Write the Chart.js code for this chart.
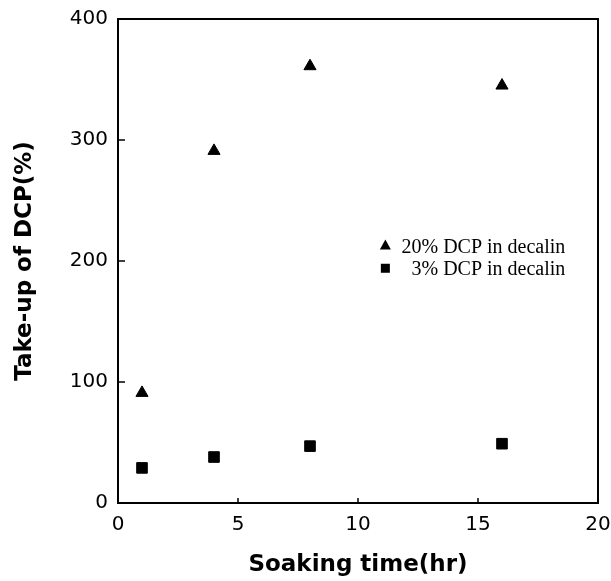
<!DOCTYPE html>
<html>
<head>
<meta charset="utf-8">
<script src="https://cdn.jsdelivr.net/npm/chart.js@4"></script>
<style>
html,body{margin:0;padding:0;background:#fff;}
#wrap{width:611px;height:581px;}
</style>
</head>
<body>
<div id="wrap"><canvas id="c" width="611" height="581"></canvas></div>
<script>
const soakingTime = [1, 4, 8, 16];
const dcp20 = [91, 291, 361, 345];
const dcp3 = [29, 38, 47, 49];
const seriesLabels = ['20% DCP in decalin', '3% DCP in decalin'];
const xTicks = [0, 5, 10, 15, 20];
const yTicks = [0, 100, 200, 300, 400];

const boxPlugin = {
  id: 'boxPlugin',
  afterDraw(chart) {
    const {ctx, chartArea: a, scales: {x, y}} = chart;
    ctx.save();
    ctx.strokeStyle = '#000';
    ctx.lineWidth = 2;
    ctx.strokeRect(a.left, a.top, a.right - a.left, a.bottom - a.top);
    ctx.lineWidth = 1.5;
    ctx.beginPath();
    xTicks.slice(1, -1).forEach(v => {
      const px = x.getPixelForValue(v);
      ctx.moveTo(px, a.bottom);
      ctx.lineTo(px, a.bottom - 5);
    });
    yTicks.slice(1, -1).forEach(v => {
      const py = y.getPixelForValue(v);
      ctx.moveTo(a.left, py);
      ctx.lineTo(a.left + 7, py);
    });
    ctx.stroke();

    // legend
    const lx = a.left + (a.right - a.left) * 0.557;
    const tx = a.left + (a.right - a.left) * 0.932;
    const ly1 = a.top + (a.bottom - a.top) * 0.468;
    const ly2 = a.top + (a.bottom - a.top) * 0.515;
    ctx.fillStyle = '#000';
    ctx.beginPath();
    ctx.moveTo(lx, ly1 - 6);
    ctx.lineTo(lx + 5.5, ly1 + 4);
    ctx.lineTo(lx - 5.5, ly1 + 4);
    ctx.closePath();
    ctx.fill();
    ctx.fillRect(lx - 4.5, ly2 - 4.5, 9, 9);
    ctx.font = '20px "Liberation Serif", "Times New Roman", serif';
    ctx.textAlign = 'right';
    ctx.textBaseline = 'alphabetic';
    ctx.fillText(seriesLabels[0], tx, ly1 + 7);
    ctx.fillText(seriesLabels[1], tx, ly2 + 7);
    ctx.restore();
  }
};

new Chart(document.getElementById('c'), {
  type: 'scatter',
  data: {
    datasets: [
      {
        label: seriesLabels[0],
        data: soakingTime.map((t, i) => ({x: t, y: dcp20[i]})),
        pointStyle: 'triangle',
        pointRadius: 7,
        borderWidth: 1,
        backgroundColor: '#000',
        borderColor: '#000'
      },
      {
        label: seriesLabels[1],
        data: soakingTime.map((t, i) => ({x: t, y: dcp3[i]})),
        pointStyle: 'rect',
        pointRadius: 7.5,
        borderWidth: 1,
        backgroundColor: '#000',
        borderColor: '#000'
      }
    ]
  },
  options: {
    responsive: false,
    animation: false,
    events: [],
    layout: {padding: {top: 19, right: 13, left: 0, bottom: 0}},
    plugins: {legend: {display: false}, tooltip: {enabled: false}},
    scales: {
      x: {
        type: 'linear',
        min: 0, max: 20,
        afterFit(s) { s.height = 78; s.paddingLeft = 0; s.paddingRight = 0; },
        afterBuildTicks(s) { s.ticks = xTicks.map(v => ({value: v})); },
        grid: {display: false, drawTicks: false},
        border: {display: false},
        ticks: {
          padding: 10,
          color: '#000',
          font: {family: '"DejaVu Sans", sans-serif', size: 20}
        },
        title: {
          display: true,
          text: 'Soaking time(hr)',
          color: '#000',
          font: {family: '"DejaVu Sans", sans-serif', size: 23, weight: 'bold'},
          padding: {top: 0, bottom: 2}
        }
      },
      y: {
        type: 'linear',
        min: 0, max: 400,
        afterFit(s) { s.width = 118; s.paddingTop = 0; s.paddingBottom = 0; },
        afterBuildTicks(s) { s.ticks = yTicks.map(v => ({value: v})); },
        grid: {display: false, drawTicks: false},
        border: {display: false},
        ticks: {
          padding: 10,
          color: '#000',
          font: {family: '"DejaVu Sans", sans-serif', size: 20}
        },
        title: {
          display: true,
          text: 'Take-up of DCP(%)',
          color: '#000',
          font: {family: '"DejaVu Sans", sans-serif', size: 23, weight: 'bold'},
          padding: {top: 11, bottom: 0}
        }
      }
    }
  },
  plugins: [boxPlugin]
});
</script>
</body>
</html>
